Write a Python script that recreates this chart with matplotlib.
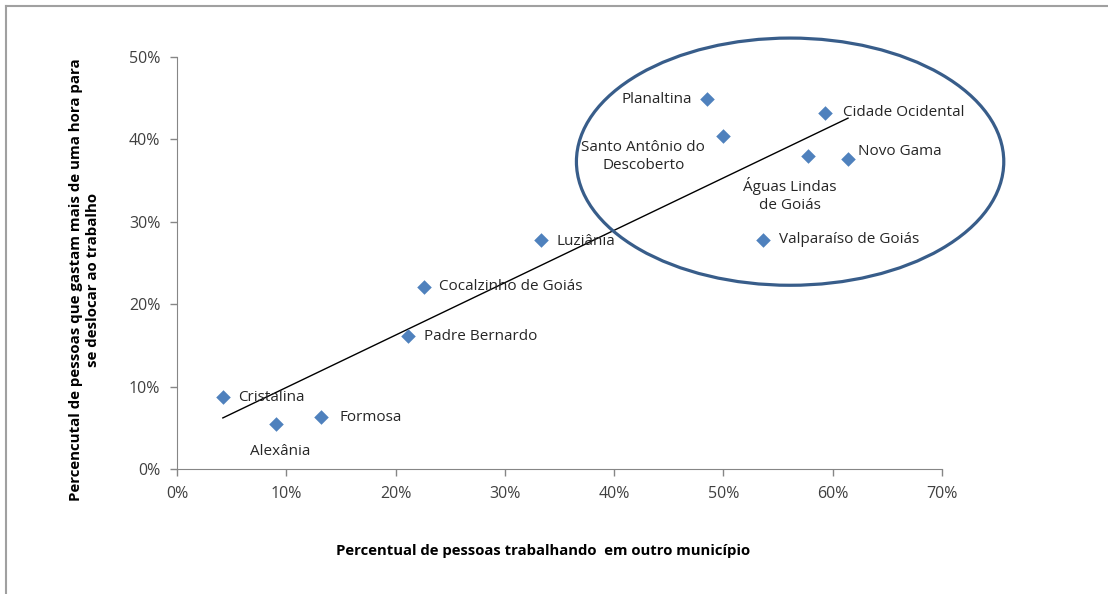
import numpy as np
import matplotlib.pyplot as plt
from matplotlib.patches import Ellipse
from matplotlib.ticker import PercentFormatter

# municipios do entorno do DF
municipios = ["Cristalina", "Alexânia", "Formosa", "Padre Bernardo",
              "Cocalzinho de Goiás", "Luziânia", "Planaltina",
              "Santo Antônio do\nDescoberto", "Cidade Ocidental",
              "Águas Lindas\nde Goiás", "Novo Gama", "Valparaíso de Goiás"]
trab_outro_mun = [0.042, 0.091, 0.132, 0.211, 0.226, 0.333, 0.485, 0.500,
                  0.593, 0.577, 0.614, 0.536]
mais_uma_hora = [0.087, 0.055, 0.063, 0.161, 0.221, 0.278, 0.449, 0.404,
                 0.432, 0.380, 0.376, 0.278]

# posicao dos rotulos (pixels relativos ao ponto) e alinhamento
label_pos = {
    "Cristalina": (15, 0, "left"),
    "Alexânia": (4, -28, "center"),
    "Formosa": (18, 0, "left"),
    "Padre Bernardo": (16, 0, "left"),
    "Cocalzinho de Goiás": (15, 0, "left"),
    "Luziânia": (16, -2, "left"),
    "Planaltina": (-15, 0, "right"),
    "Santo Antônio do\nDescoberto": (-80, -20, "center"),
    "Cidade Ocidental": (18, 1, "left"),
    "Águas Lindas\nde Goiás": (-18, -39, "center"),
    "Novo Gama": (10, 8, "left"),
    "Valparaíso de Goiás": (16, 0, "left"),
}

plt.rcParams['font.family'] = ['Open Sans', 'DejaVu Sans']

fig = plt.figure(figsize=(11.08, 5.94), dpi=100)
ax = fig.add_axes([0.1597, 0.2104, 0.8502 - 0.1597, 0.904 - 0.2104])

ax.scatter(trab_outro_mun, mais_uma_hora, marker="D", s=55, color="#4F81BD",
           zorder=3, linewidths=0)

# linha de tendencia linear
x = np.array(trab_outro_mun)
y = np.array(mais_uma_hora)
a, b = np.polyfit(x, y, 1)
xs = np.array([x.min(), x.max()])
ax.plot(xs, a * xs + b, color="black", lw=1.0, zorder=2)

for nome, xi, yi in zip(municipios, trab_outro_mun, mais_uma_hora):
    dx, dy, ha = label_pos[nome]
    ax.annotate(nome, (xi, yi), xytext=(dx, dy), textcoords="offset pixels",
                ha=ha, va="center", fontsize=11, color="#262626",
                linespacing=1.25)

# destaque dos municipios mais integrados
ax.add_patch(Ellipse((0.561, 0.373), 0.391, 0.300, fill=False,
                     edgecolor="#385D8A", lw=2.3, zorder=4, clip_on=False))

ax.set_xlim(0, 0.7)
ax.set_ylim(0, 0.5)
ax.set_xticks(np.arange(0, 0.71, 0.1))
ax.set_yticks(np.arange(0, 0.51, 0.1))
ax.xaxis.set_major_formatter(PercentFormatter(1.0, decimals=0))
ax.yaxis.set_major_formatter(PercentFormatter(1.0, decimals=0))
ax.tick_params(colors="#868686", labelcolor="#404040", labelsize=11.5,
               length=5, width=1)
ax.tick_params(axis="x", pad=7)
ax.tick_params(axis="y", pad=7)
for s in ["top", "right"]:
    ax.spines[s].set_visible(False)
for s in ["left", "bottom"]:
    ax.spines[s].set_color("#868686")

ax.set_xlabel("Percentual de pessoas trabalhando  em outro município",
              fontsize=10.7, fontweight="bold")
ax.xaxis.set_label_coords(0.478, -0.182)
ax.set_ylabel("Percencutal de pessoas que gastam mais de uma hora para\n"
              "se deslocar ao trabalho", fontsize=10.8, fontweight="bold",
              linespacing=1.25)
ax.yaxis.set_label_coords(-0.101, 0.459)

# moldura do grafico
fig.add_artist(plt.Line2D([0.0055, 1.0], [0.99, 0.99], color="#A0A0A0", lw=1.5))
fig.add_artist(plt.Line2D([0.0055, 0.0055], [0.0, 0.99], color="#A0A0A0", lw=1.5))

fig.savefig("out.png", dpi=100)
